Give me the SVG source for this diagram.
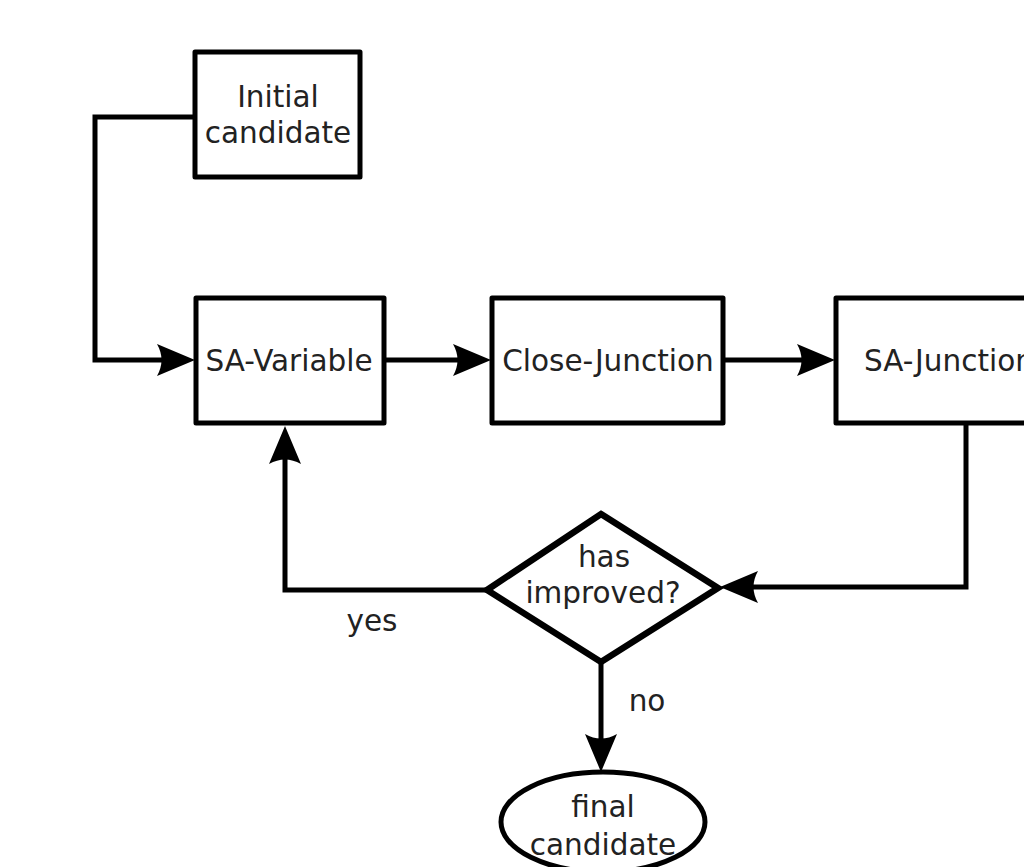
<svg xmlns="http://www.w3.org/2000/svg" width="1024" height="867" viewBox="0 0 1024 867">
<style>
.box{fill:#fff;stroke:#000;stroke-width:5;stroke-linejoin:round}
.dia{fill:#fff;stroke:#000;stroke-width:6.5;stroke-linejoin:miter}
.con{fill:none;stroke:#000;stroke-width:5}
text{font-family:"DejaVu Sans",sans-serif;font-size:29.5px;fill:#222;text-anchor:middle}
</style>
<defs>
<marker id="arr" markerUnits="userSpaceOnUse" viewBox="0 -20 40 40" refX="18" refY="0" markerWidth="40" markerHeight="40" orient="auto" overflow="visible">
<path d="M0,-16 L38,0 L0,16 Q9,0 0,-16 Z" fill="#000"/>
</marker>
</defs>
<rect width="1024" height="867" fill="#fff"/>
<g id="connectors">
<path class="con" d="M195,117 H95 V360 H175" marker-end="url(#arr)"/>
<path class="con" d="M385,360 H471" marker-end="url(#arr)"/>
<path class="con" d="M724,360 H815" marker-end="url(#arr)"/>
<path class="con" d="M966,424 V587 H740" marker-end="url(#arr)"/>
<path class="con" d="M487,590 H285 V446" marker-end="url(#arr)"/>
<path class="con" d="M601,662 V752" marker-end="url(#arr)"/>
<text x="372" y="631">yes</text>
<text x="647" y="711">no</text>
</g>
<g id="initial">
<rect class="box" x="195" y="52" width="165" height="125"/>
<text x="278" y="107">Initial</text>
<text x="278" y="143">candidate</text>
</g>
<g id="sa-variable">
<rect class="box" x="196" y="298" width="188" height="125"/>
<text x="289" y="371">SA-Variable</text>
</g>
<g id="close-junction">
<rect class="box" x="492" y="298" width="231" height="125"/>
<text x="608" y="371">Close-Junction</text>
</g>
<g id="sa-junction">
<rect class="box" x="836" y="298" width="240" height="125"/>
<text x="864" y="371" style="text-anchor:start">SA-Junction</text>
</g>
<g id="decision">
<path class="dia" d="M601,514 L718,588 L601,662 L487,590 Z"/>
<text x="604" y="567">has</text>
<text x="603" y="603">improved?</text>
</g>
<g id="final">
<ellipse class="box" cx="603" cy="822" rx="102" ry="50"/>
<text x="603" y="817">final</text>
<text x="603" y="855">candidate</text>
</g>
</svg>
